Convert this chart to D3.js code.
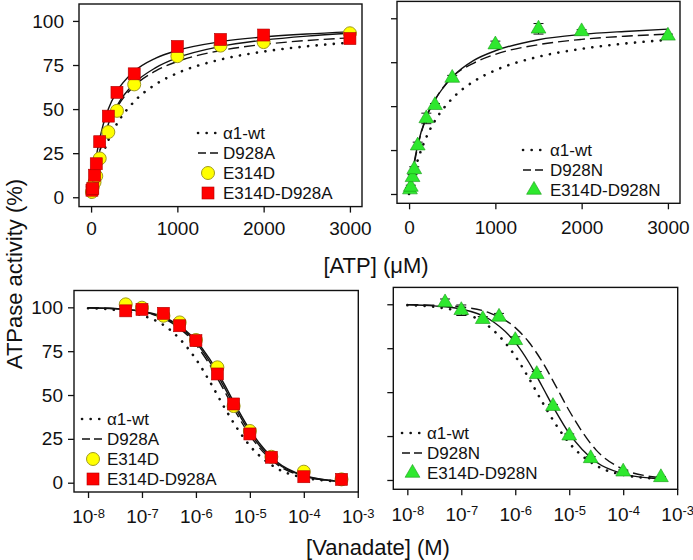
<!DOCTYPE html>
<html><head><meta charset="utf-8">
<script src="https://cdn.jsdelivr.net/npm/d3@7/dist/d3.min.js"></script>
<style>
html,body{margin:0;padding:0;background:#fff;}
svg{display:block;font-family:"Liberation Sans",Arial,sans-serif;}
</style></head>
<body>
<svg id="c" width="693" height="560"></svg>
<script>
// ---------- DATA ----------
const atpTicks = [0, 1000, 2000, 3000];
const yTicks = [0, 25, 50, 75, 100];
const vanTicks = [1e-8, 1e-7, 1e-6, 1e-5, 1e-4, 1e-3];
const vanTickExp = ["-8", "-7", "-6", "-5", "-4", "-3"];

// ATP measurements (%)
const atpX = [10, 20, 40, 60, 100, 200, 300, 500, 1000, 1500, 2000, 3000];
const atpE314D = [3, 6, 8.5, 12, 22, 37, 49, 64, 80, 86, 88, 93];
const atpE314DErr = [0.5, 0.5, 1, 1, 1, 1.5, 2, 1.5, 1.5, 1, 1, 1];
const atpE314DD928A = [4, 5, 12.5, 19, 31.5, 46, 59.5, 70, 85.5, 89.5, 92, 90];
const atpE314DD928AErr = [0.5, 0.5, 1, 1, 1.5, 2, 1.5, 1.5, 2, 2, 1.5, 1];
const atpE314DD928N = [2.5, 4, 9.5, 14, 27.5, 43, 50.5, 66, 85, 94, 92.5, 90];
const atpE314DD928NErr = [1, 1, 1.5, 1.5, 2, 3, 1, 1.5, 2, 3, 1, 1];

// ATP fitted curves
const atpCurveX = [0, 25, 50, 100, 200, 300, 500, 750, 1000, 1500, 2000, 2500, 3000];
const atpFitWt = [0, 5.6, 10.6, 19.2, 32.3, 41.7, 54.3, 64.1, 70.4, 78.1, 82.6, 85.6, 87.7];
const atpFitD928A = [0, 8.0, 14.8, 25.7, 40.8, 50.8, 63.1, 71.7, 77.0, 83.2, 86.7, 88.9, 90.4];
const atpFitE314D = [0, 8.1, 15.0, 26.2, 41.6, 51.9, 64.6, 73.5, 79.1, 85.5, 89.1, 91.4, 93.0];
const atpFitE314DD928A = [0, 11.1, 20, 33.3, 50, 60, 71.4, 78.9, 83.3, 88.2, 90.9, 92.6, 93.8];
const atpFitD928N = [0, 7.5, 14.5, 27, 43.5, 53.5, 66.5, 74.5, 79.5, 85, 88, 89.8, 91];
const atpFitE314DD928N = [0, 8, 15.5, 28, 44, 53.5, 66.5, 76, 81.5, 87.8, 90.8, 92.5, 93.8];

// Vanadate measurements (%)
const vanX = [5e-8, 1e-7, 2.5e-7, 5e-7, 1e-6, 2.5e-6, 5e-6, 1e-5, 2.5e-5, 1e-4, 5e-4];
const vanE314D = [101.7, 99.8, 95.2, 91.4, 81.4, 65.8, 43.7, 29.5, 14.8, 6.3, 1.9];
const vanE314DErr = [1, 1, 1, 1, 1, 1.5, 1, 1, 1, 1, 0.5];
const vanE314DD928A = [98, 98.8, 96.6, 89.5, 81, 62, 44.9, 27.8, 14.5, 3.4, 1.9];
const vanE314DD928AErr = [1, 1.5, 1.5, 1.5, 1, 1.5, 1, 1, 1, 0.5, 0.5];
const vanE314DD928N = [101, 96.6, 91.5, 92.8, 79.5, 60.2, 42, 25.2, 12.3, 4.7, 1.5];
const vanE314DD928NErr = [2, 3, 1.5, 2, 2, 1.5, 1, 1, 1, 1, 0.5];

// Vanadate fitted curves
const vanCurveX = [1e-8, 3.16e-8, 1e-7, 3.16e-7, 1e-6, 1.78e-6, 3.16e-6, 5.62e-6, 1e-5, 3.16e-5, 1e-4, 3.16e-4, 6e-4];
const vanFitWt = [99.5, 98.5, 95.5, 87.7, 70.5, 58.0, 44.4, 31.7, 21.1, 8.2, 2.9, 1.0, 0.5];
const vanFitD928A = [99.7, 99.2, 97.4, 92.1, 78.7, 67.5, 53.9, 39.7, 27.0, 10.5, 3.6, 1.2, 0.6];
const vanFitE314D = [99.8, 99.3, 97.7, 93.2, 81.1, 70.7, 57.6, 43.3, 30.1, 12.0, 4.1, 1.3, 0.7];
const vanFitE314DD928A = [99.7, 99.2, 97.6, 92.7, 80.0, 69.2, 55.9, 41.6, 28.6, 11.2, 3.8, 1.25, 0.66];
const vanFitD928N = [99.8, 99.5, 98.5, 95.4, 86.7, 78.5, 67.3, 53.6, 39.4, 17.0, 6.1, 2.0, 1.1];
const vanFitE314DD928N = [99.7, 99.1, 97.3, 91.9, 78.3, 67.0, 53.2, 39.1, 26.5, 10.2, 3.5, 1.1, 0.6];

// ---------- STYLE ----------
const FONT = '"Liberation Sans",Arial,sans-serif';
const YEL = "#ffff00", YEL_S = "#a09a20";
const RED = "#ff0000", RED_S = "#b00000";
const GRN = "#2ee82e", GRN_S = "#1a9a1a";
const DOT = {dash: "0.1,8.5", width: 2.6, cap: "round"};
const DASH = {dash: "11,5", width: 1.4, cap: "butt"};
const SOLID = {dash: null, width: 1.4, cap: "butt"};
const LEG_FS = 17;

const svg = d3.select("#c");

function panel(cfg) {
  const g = svg.append("g");
  const x = cfg.log ? d3.scaleLog(cfg.xd, cfg.xr) : d3.scaleLinear(cfg.xd, cfg.xr);
  const y = d3.scaleLinear([-5.3, 109.6], cfg.yr);

  // axes
  const ax = d3.axisBottom(x).tickValues(cfg.log ? vanTicks : atpTicks)
    .tickSize(6).tickSizeOuter(0).tickPadding(cfg.xPad);
  const gx = g.append("g").attr("transform", `translate(0,${cfg.yr[0]})`).call(ax);
  gx.select(".domain").remove();
  gx.selectAll("line").attr("stroke", "#111").attr("stroke-width", 1.3);
  gx.selectAll("text").attr("font-size", 19).attr("font-family", FONT).attr("fill", "#111");
  if (cfg.log) {
    gx.selectAll("text").each(function(d, i) {
      const t = d3.select(this).text("");
      t.append("tspan").text("10");
      t.append("tspan").attr("font-size", 13).attr("dy", "-0.45em").text(vanTickExp[i]);
    });
  } else {
    gx.selectAll("text").text(d => d3.format("d")(d));
  }
  const ay = d3.axisLeft(y).tickValues(yTicks).tickSize(6).tickSizeOuter(0).tickPadding(cfg.yPad);
  if (!cfg.yLabels) ay.tickFormat(() => "");
  const gy = g.append("g").attr("transform", `translate(${cfg.xr[0]},0)`).call(ay);
  gy.select(".domain").remove();
  gy.selectAll("line").attr("stroke", "#111").attr("stroke-width", 1.3);
  gy.selectAll("text").attr("font-size", 19).attr("font-family", FONT).attr("fill", "#111");

  // frame
  g.append("rect").attr("x", cfg.xr[0]).attr("y", cfg.yr[1])
    .attr("width", cfg.xr[1] - cfg.xr[0]).attr("height", cfg.yr[0] - cfg.yr[1])
    .attr("fill", "none").attr("stroke", "#111").attr("stroke-width", 1.4);

  // curves
  const line = d3.line().x(d => x(d[0])).y(d => y(d[1])).curve(d3.curveMonotoneX);
  cfg.curves.forEach(c => {
    g.append("path").attr("d", line(cfg.cx.map((v, i) => [v, c.ys[i]])))
      .attr("fill", "none").attr("stroke", "#111")
      .attr("stroke-width", c.st.width).attr("stroke-linecap", c.st.cap)
      .attr("stroke-dasharray", c.st.dash);
  });

  // points with error bars
  cfg.series.forEach(s => {
    const pts = cfg.px.map((v, i) => ({x: x(v), y: y(s.ys[i]), e: s.err[i], v: s.ys[i]}));
    pts.forEach(p => {
      const y1 = y(p.v + p.e), y2 = y(p.v - p.e);
      g.append("line").attr("x1", p.x).attr("x2", p.x).attr("y1", y1).attr("y2", y2)
        .attr("stroke", "#111").attr("stroke-width", 1);
      [y1, y2].forEach(yy => g.append("line").attr("x1", p.x - 5).attr("x2", p.x + 5)
        .attr("y1", yy).attr("y2", yy).attr("stroke", "#111").attr("stroke-width", 1));
    });
    pts.forEach(p => marker(g, s.m, p.x, p.y));
  });

  // legend
  cfg.legend.items.forEach((it, i) => {
    const ly = cfg.legend.rows[i];
    const L = cfg.legend;
    if (it.st) {
      g.append("line").attr("x1", L.x0).attr("x2", L.x1).attr("y1", ly).attr("y2", ly)
        .attr("stroke", "#111").attr("stroke-width", it.st.width)
        .attr("stroke-linecap", it.st.cap).attr("stroke-dasharray", it.st === DASH ? "8,4" : it.st.dash);
    } else {
      marker(g, it.m, (L.x0 + L.x1) / 2, ly);
    }
    g.append("text").attr("x", L.tx).attr("y", ly).attr("dy", "0.36em")
      .attr("font-size", LEG_FS).attr("font-family", FONT).attr("fill", "#111").text(it.label);
  });
}

function marker(g, m, cx, cy) {
  if (m === "circle") {
    g.append("circle").attr("cx", cx).attr("cy", cy).attr("r", 6.5)
      .attr("fill", YEL).attr("stroke", YEL_S).attr("stroke-width", 1);
  } else if (m === "square") {
    g.append("rect").attr("x", cx - 6).attr("y", cy - 6).attr("width", 12).attr("height", 12)
      .attr("fill", RED).attr("stroke", RED_S).attr("stroke-width", 0.6);
  } else {
    g.append("path").attr("d", d3.symbol(d3.symbolTriangle, 95)())
      .attr("transform", `translate(${cx},${cy})`)
      .attr("fill", GRN).attr("stroke", GRN_S).attr("stroke-width", 0.6);
  }
}

// Panel A: ATP, E314D / E314D-D928A
panel({
  log: false, xd: [-140, 3140], xr: [79, 362], yr: [206.6, 4], xPad: 9, yPad: 9, yLabels: true,
  cx: atpCurveX, px: atpX,
  curves: [
    {ys: atpFitWt, st: DOT}, {ys: atpFitD928A, st: DASH},
    {ys: atpFitE314D, st: SOLID}, {ys: atpFitE314DD928A, st: SOLID}
  ],
  series: [
    {ys: atpE314D, err: atpE314DErr, m: "circle"},
    {ys: atpE314DD928A, err: atpE314DD928AErr, m: "square"}
  ],
  legend: {x0: 198, x1: 218, tx: 223, rows: [133, 153, 173, 193], items: [
    {st: DOT, label: "α1-wt"}, {st: DASH, label: "D928A"},
    {m: "circle", label: "E314D"}, {m: "square", label: "E314D-D928A"}]}
});

// Panel B: ATP, E314D-D928N
panel({
  log: false, xd: [-140, 3140], xr: [397, 680], yr: [203.3, 1.4], xPad: 11, yPad: 9, yLabels: false,
  cx: atpCurveX, px: atpX,
  curves: [
    {ys: atpFitWt, st: DOT}, {ys: atpFitD928N, st: DASH}, {ys: atpFitE314DD928N, st: SOLID}
  ],
  series: [{ys: atpE314DD928N, err: atpE314DD928NErr, m: "triangle"}],
  legend: {x0: 523, x1: 545, tx: 550, rows: [150, 170, 190], items: [
    {st: DOT, label: "α1-wt"}, {st: DASH, label: "D928N"},
    {m: "triangle", label: "E314D-D928N"}]}
});

// Panel C: Vanadate, E314D / E314D-D928A
panel({
  log: true, xd: [Math.pow(10, -8.26), Math.pow(10, -2.99)], xr: [74, 358.3], yr: [492, 290.5],
  xPad: 12, yPad: 5, yLabels: true,
  cx: vanCurveX, px: vanX,
  curves: [
    {ys: vanFitWt, st: DOT}, {ys: vanFitD928A, st: DASH},
    {ys: vanFitE314D, st: SOLID}, {ys: vanFitE314DD928A, st: SOLID}
  ],
  series: [
    {ys: vanE314D, err: vanE314DErr, m: "circle"},
    {ys: vanE314DD928A, err: vanE314DD928AErr, m: "square"}
  ],
  legend: {x0: 82, x1: 104, tx: 107, rows: [419, 439, 459, 479], items: [
    {st: DOT, label: "α1-wt"}, {st: DASH, label: "D928A"},
    {m: "circle", label: "E314D"}, {m: "square", label: "E314D-D928A"}]}
});

// Panel D: Vanadate, E314D-D928N
panel({
  log: true, xd: [Math.pow(10, -8.26), Math.pow(10, -2.99)], xr: [393.3, 677.7], yr: [489.3, 287.4],
  xPad: 12, yPad: 5, yLabels: false,
  cx: vanCurveX, px: vanX,
  curves: [
    {ys: vanFitWt, st: DOT}, {ys: vanFitD928N, st: DASH}, {ys: vanFitE314DD928N, st: SOLID}
  ],
  series: [{ys: vanE314DD928N, err: vanE314DD928NErr, m: "triangle"}],
  legend: {x0: 402, x1: 423, tx: 427, rows: [433, 453, 473], items: [
    {st: DOT, label: "α1-wt"}, {st: DASH, label: "D928N"},
    {m: "triangle", label: "E314D-D928N"}]}
});

// axis titles
svg.append("text").attr("x", 376).attr("y", 273).attr("text-anchor", "middle")
  .attr("font-size", 22).attr("font-family", FONT).attr("fill", "#111").text("[ATP] (μM)");
svg.append("text").attr("x", 378).attr("y", 555).attr("text-anchor", "middle")
  .attr("font-size", 22).attr("font-family", FONT).attr("fill", "#111").text("[Vanadate] (M)");
svg.append("text").attr("transform", "translate(22,274) rotate(-90)").attr("text-anchor", "middle")
  .attr("font-size", 22).attr("font-family", FONT).attr("fill", "#111").text("ATPase activity (%)");
</script>
</body></html>
